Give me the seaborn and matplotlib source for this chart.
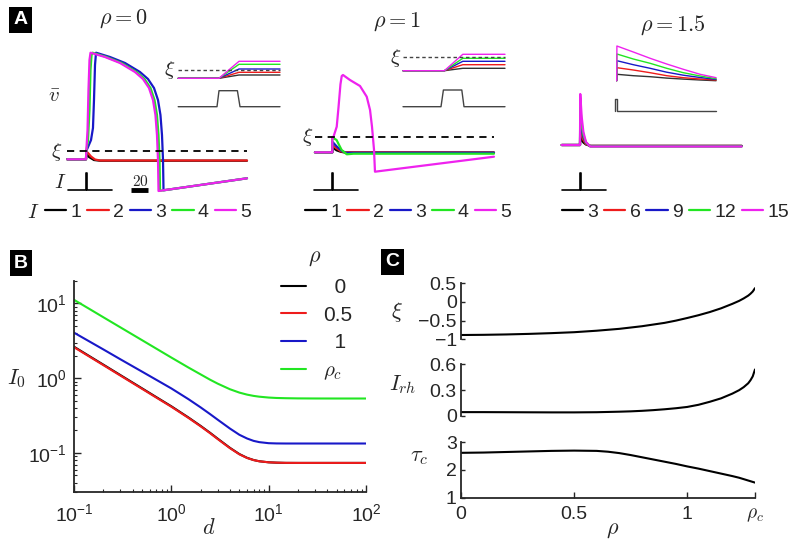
import numpy as np
import pandas as pd
import matplotlib
matplotlib.use('Agg')
import matplotlib.pyplot as plt
import seaborn as sns
from matplotlib.ticker import LogLocator, NullFormatter

sns.set_style('ticks')
plt.rcParams['font.family'] = ['Liberation Sans', 'DejaVu Sans']
plt.rcParams['mathtext.fontset'] = 'cm'
plt.rcParams['axes.unicode_minus'] = True

W, H = 796, 545
fig = plt.figure(figsize=(W / 100, H / 100), dpi=100)

COLORS = ['black', '#ee1c1c', '#1818c8', '#22e622', '#ee22ee']

# ---------------- Panel A data ----------------
# rho = 0 : currents and traces (time t, membrane v)
a1_currents = [1, 2, 3, 4, 5]
a1_t = [
    [-22, 0, 0.35, 3.5, 9.4, 16.5, 189.4],
    [-22, 0, 0.35, 2.4, 5.9, 10.6, 16.5, 189.4],
    [-22, 0, 0.35, 2.4, 5.9, 8.2, 9.4, 10.6, 11.8, 28.2, 45.9, 63.5, 72.9, 80, 84.7, 87.6, 89.4, 90.6, 91.2, 189.4],
    [-22, 0, 0.35, 2.4, 4.1, 5.3, 6.5, 7.7, 24.1, 41.8, 59.4, 68.8, 75.9, 80.6, 83.5, 85.3, 86.5, 87.1, 189.4],
    [-22, 0, 0.35, 1.8, 2.9, 4.1, 5.3, 22.3, 40, 57.6, 67, 74.1, 78.8, 81.7, 83.5, 84.7, 85.3, 189.4],
]
a1_v = [
    [0, 0, 0.58, 0.23, -0.07, -0.14, -0.14],
    [0, 0, 0.78, 0.63, 0.28, -0.02, -0.12, -0.12],
    [0, 0, 0.83, 1.23, 1.93, 3.13, 5.93, 9.43, 10.66, 10.23, 9.63, 8.73, 8.03, 7.13, 5.93, 4.43, 2.43, -0.07, -3.10, -1.9],
    [0, 0, 0.83, 1.93, 4.93, 8.93, 10.4, 10.66, 10.23, 9.63, 8.73, 8.03, 7.13, 5.93, 4.43, 2.43, -0.07, -3.15, -1.9],
    [0, 0, 0.83, 2.93, 6.93, 9.93, 10.66, 10.23, 9.63, 8.73, 8.03, 7.13, 5.93, 4.43, 2.43, -0.07, -3.17, -1.9],
]
a1_xi = 0.83
a1_inset_u = [-2.04, 0, 1, 3.05]
a1_inset_end = [0.33, 0.6, 0.93, 1.4, 1.7]
a1_pulse_u = [-2.04, -0.1, 0, 0.92, 1.05, 3.05]
a1_pulse_p = [0, 0, 1, 1, 0, 0]

# rho = 1
a2_currents = [1, 2, 3, 4, 5]
a2_t = [
    [-20.4, 0, 0.01, 5, 10, 15, 190.2],
    [-20.4, 0, 0.01, 5, 10, 15, 190.2],
    [-20.4, 0, 0.01, 5, 11, 16, 190.2],
    [-20.4, 0, 0.01, 5, 11, 17, 25, 190.2],
    [-20.4, 0, 0.01, 1.2, 5.2, 7.3, 9.6, 11.1, 12.6, 20.8, 32.6, 40.5, 44.4, 46.7, 49.1, 50.2, 190.2],
]
a2_v = [
    [0, 0, 0.5, 0.2, 0.05, -0.02, -0.02],
    [0, 0, 0.73, 0.4, 0.1, 0, -0.03],
    [0, 0, 1.06, 0.6, 0.15, -0.05, -0.05],
    [0, 0, 1.5, 1.23, 0.23, -0.2, -0.14, -0.14],
    [0, 0, 1.5, 1.5, 2.56, 4.5, 6.8, 7.63, 7.73, 7.23, 6.63, 5.56, 4.23, 2.56, 0.23, -1.94, -0.44],
]
a2_xi = 1.5
a2_inset_u = [-2.0, 0.07, 0.99, 3.1]
a2_inset_end = [0.24, 0.6, 0.94, 1.24, 1.64]
a2_inset_xi = 1.34
a2_pulse_u = [-2.0, -0.1, 0.02, 0.94, 1.05, 3.1]
a2_pulse_p = [0, 0, 1, 1, 0, 0]

# rho = 1.5
a3_currents = [3, 6, 9, 12, 15]
a3_t = [-21.5, 0, 0.3, 2, 4, 7, 12, 190.2]
a3_v = [
    [0, 0, 0.94, 0.5, 0.25, 0.05, -0.08, -0.08],
    [0, 0, 1.9, 1.0, 0.5, 0.1, -0.1, -0.1],
    [0, 0, 3.0, 1.6, 0.8, 0.2, -0.12, -0.12],
    [0, 0, 3.9, 2.1, 1.0, 0.25, -0.14, -0.14],
    [0, 0, 5.1, 2.8, 1.3, 0.3, -0.15, -0.15],
]
a3_inset_u = [0, 0.01, 0.83, 1.67, 2.5, 3.33, 4.17, 4.97]
a3_inset_w = [
    [0, 0.64, 0.5, 0.4, 0.26, 0.16, 0.07, 0.0],
    [0, 1.3, 1.07, 0.8, 0.5, 0.3, 0.17, 0.07],
    [0, 2.0, 1.6, 1.24, 0.85, 0.55, 0.32, 0.13],
    [0, 2.67, 2.17, 1.74, 1.24, 0.8, 0.47, 0.2],
    [0, 3.47, 2.87, 2.24, 1.67, 1.14, 0.64, 0.3],
]
a3_pulse_u = [-0.085, -0.085, 0, 0, 4.97]
a3_pulse_p = [0, 1, 1, 0, 0]

# stimulus (brief pulse at t=0) shown under each main trace
stim_t = [-21.2, 0, 0, 1, 1, 30.6]
stim_s = [0, 0, 1, 1, 0, 0]
scalebar_t = [53, 73]

# ---------------- Panel B data ----------------
b_d = [0.1, 0.15, 0.2, 0.3, 0.5, 0.7, 1, 1.5, 2, 2.5, 3, 4, 5, 6, 7, 8, 10, 12, 15, 20, 30, 50, 100]
b_rho_labels = ['  0', '0.5', '  1', r'$\rho_c$']
b_I0_rho0 = [2.64, 1.91, 1.52, 1.10, 0.732, 0.559, 0.421, 0.298, 0.230, 0.186, 0.155, 0.1170,
             0.0966, 0.0860, 0.0804, 0.0774, 0.0749, 0.0741, 0.0736, 0.0735, 0.0735, 0.0735, 0.0735]
b_I0_rho05 = [2.6, 1.882, 1.497, 1.083, 0.721, 0.551, 0.415, 0.294, 0.2269, 0.1836, 0.153, 0.1158,
              0.0958, 0.0856, 0.0802, 0.0773, 0.0749, 0.0741, 0.0736, 0.0735, 0.0735, 0.0735, 0.0735]
b_I0_rho1 = [4.07, 3.01, 2.43, 1.79, 1.225, 0.953, 0.73, 0.524, 0.407, 0.331, 0.278, 0.212,
             0.175, 0.156, 0.145, 0.1395, 0.135, 0.134, 0.1337, 0.1337, 0.1337, 0.1337, 0.1337]
b_I0_rhoc = [11.2, 8.19, 6.55, 4.79, 3.23, 2.49, 1.89, 1.389, 1.125, 0.955, 0.845, 0.712,
             0.642, 0.603, 0.58, 0.566, 0.551, 0.544, 0.540, 0.537, 0.5355, 0.535, 0.535]

# ---------------- Panel C data ----------------
c_rho = [0, 0.1, 0.2, 0.3, 0.4, 0.5, 0.6, 0.65, 0.7, 0.75, 0.8, 0.85, 0.9, 0.95, 1.0,
         1.05, 1.1, 1.15, 1.2, 1.23, 1.25, 1.27, 1.28, 1.29, 1.3]
c_xi = [-0.885, -0.88, -0.87, -0.855, -0.835, -0.81, -0.77, -0.745, -0.72, -0.685, -0.65, -0.605,
        -0.56, -0.50, -0.43, -0.355, -0.27, -0.17, -0.05, 0.03, 0.095, 0.17, 0.22, 0.28, 0.37]
c_irh = [0.045, 0.045, 0.044, 0.043, 0.042, 0.042, 0.044, 0.047, 0.05, 0.054, 0.06, 0.068,
         0.078, 0.09, 0.105, 0.13, 0.165, 0.205, 0.26, 0.30, 0.335, 0.38, 0.415, 0.46, 0.54]
c_tau = [2.62, 2.63, 2.65, 2.67, 2.69, 2.70, 2.69, 2.66, 2.61, 2.54, 2.46, 2.38,
         2.30, 2.22, 2.13, 2.05, 1.96, 1.87, 1.78, 1.72, 1.67, 1.62, 1.595, 1.57, 1.545]
rho_c = 1.3


# ---------------- helpers ----------------
def mapped_axes(xlim, ylim, x0px, sx, y0px, sy):
    left = x0px + xlim[0] * sx
    right = x0px + xlim[1] * sx
    top = y0px - ylim[1] * sy
    bottom = y0px - ylim[0] * sy
    ax = fig.add_axes([left / W, 1 - bottom / H, (right - left) / W, (bottom - top) / H])
    ax.set_xlim(xlim)
    ax.set_ylim(ylim)
    ax.axis('off')
    return ax


def long_df(ts, vs, labels):
    rows = []
    for t, v, lab in zip(ts, vs, labels):
        rows.append(pd.DataFrame({'t': t, 'v': v, 'I': lab}))
    return pd.concat(rows, ignore_index=True)


def ftext(x, y, s, **kw):
    kw.setdefault('ha', 'center')
    kw.setdefault('va', 'center')
    return fig.text(x / W, 1 - y / H, s, **kw)


def draw_column(t_list, v_list, currents, xi, t0x, v0y, legend_x,
                inset_ts, inset_ws, inset_xi, u0x, w0y,
                pulse_u, pulse_p, p0y, pulse_scale):
    tx = 0.85   # px per time unit
    vy = 10.0   # px per v unit
    ax = mapped_axes((-32, 200), (-4.5, 12), t0x, tx, v0y, vy)
    df = long_df(t_list, v_list, currents)
    sns.lineplot(data=df, x='t', y='v', hue='I', hue_order=currents,
                 palette=COLORS, estimator=None, sort=False, errorbar=None,
                 lw=1.6, ax=ax, legend=True)
    ax.axis('off')
    tmin = min(min(t) for t in t_list)
    tmax = max(max(t) for t in t_list)
    if xi is not None:
        ax.hlines(xi, tmin, tmax, colors='black', linestyles=(0, (4, 3)), lw=1.3)
    sns.move_legend(ax, 'center left', bbox_to_anchor=(legend_x / W, 1 - 212 / H),
                    bbox_transform=fig.transFigure, ncol=5, frameon=False, title=None,
                    handlelength=1.1, handletextpad=0.22, columnspacing=0.3,
                    borderpad=0, borderaxespad=0, fontsize=14)
    # stimulus
    axs = mapped_axes((-32, 200), (-0.4, 1.3), t0x, tx, 190, 17)
    sns.lineplot(x=stim_t, y=stim_s, color='black', lw=1.2, estimator=None,
                 sort=False, errorbar=None, ax=axs)
    axs.axis('off')
    # inset traces
    axi = mapped_axes((-2.3, 5.2), (-0.4, 3.8), u0x, 20, w0y, 10)
    dfi = long_df(inset_ts, inset_ws, currents)
    sns.lineplot(data=dfi, x='t', y='v', hue='I', hue_order=currents,
                 palette=['#333333'] + COLORS[1:], estimator=None, sort=False,
                 errorbar=None, lw=1.0, ax=axi, legend=False)
    axi.axis('off')
    if inset_xi is not None:
        axi.hlines(inset_xi, min(inset_ts[0]), max(inset_ts[0]), colors='#444444',
                   linestyles=(0, (2.5, 2)), lw=1.0)
    axp = mapped_axes((-2.3, 5.2), (-0.3, 1.4), u0x, 20, p0y, pulse_scale)
    sns.lineplot(x=pulse_u, y=pulse_p, color='#444444', lw=1.0, estimator=None,
                 sort=False, errorbar=None, ax=axp)
    axp.axis('off')
    return ax, axs


# ---------------- Panel A ----------------
ax1, axs1 = draw_column(a1_t, a1_v, a1_currents, a1_xi, 86, 159.3, 45,
                        [a1_inset_u] * 5, [[0, 0, e, e] for e in a1_inset_end], a1_xi,
                        219, 78.3, a1_pulse_u, a1_pulse_p, 106.7, 16)
axs1.plot(scalebar_t, [0, 0], color='black', lw=3.5, solid_capstyle='butt')
ftext(140, 181, '$20$', fontsize=11)

ax2, axs2 = draw_column(a2_t, a2_v, a2_currents, a2_xi, 332.3, 152.3, 305,
                        [a2_inset_u] * 5, [[0, 0, e, e] for e in a2_inset_end], a2_inset_xi,
                        443, 70.7, a2_pulse_u, a2_pulse_p, 106.7, 16.7)

ax3, axs3 = draw_column([a3_t] * 5, a3_v, a3_currents, None, 580, 145, 561.7,
                        [a3_inset_u] * 5, a3_inset_w, None,
                        616.7, 80.7, a3_pulse_u, a3_pulse_p, 111, 11.7)

ftext(123.3, 18.3, r'$\rho = 0$', fontsize=16)
ftext(396.7, 21.7, r'$\rho = 1$', fontsize=16)
ftext(673.3, 25, r'$\rho = 1.5$', fontsize=16)
ftext(57, 151.7, r'$\xi$', fontsize=15)
ftext(307.5, 137.3, r'$\xi$', fontsize=15)
ftext(170, 70, r'$\xi$', fontsize=15)
ftext(396, 58, r'$\xi$', fontsize=15)
ftext(54, 96, r'$\bar{v}$', fontsize=15)
ftext(60, 182, r'$I$', fontsize=15)
ftext(33.3, 212, r'$I$', fontsize=15)

# ---------------- Panel B ----------------
axb = fig.add_axes([74 / W, 1 - 492 / H, 292 / W, 211 / H])
df_b = pd.concat([
    pd.DataFrame({'d': b_d, 'I0': b_I0_rho0, 'rho': b_rho_labels[0]}),
    pd.DataFrame({'d': b_d, 'I0': b_I0_rho05, 'rho': b_rho_labels[1]}),
    pd.DataFrame({'d': b_d, 'I0': b_I0_rho1, 'rho': b_rho_labels[2]}),
    pd.DataFrame({'d': b_d, 'I0': b_I0_rhoc, 'rho': b_rho_labels[3]}),
], ignore_index=True)
sns.lineplot(data=df_b, x='d', y='I0', hue='rho', hue_order=b_rho_labels,
             palette=[COLORS[0], COLORS[1], COLORS[2], COLORS[3]], lw=1.5,
             estimator=None, errorbar=None, ax=axb)
axb.set_xscale('log')
axb.set_yscale('log')
axb.set_xlim(0.1, 100)
axb.set_ylim(0.03, 20)
axb.set_xlabel('')
axb.set_ylabel('')
axb.xaxis.set_major_locator(LogLocator(base=10, numticks=10))
axb.yaxis.set_major_locator(LogLocator(base=10, numticks=10))
axb.xaxis.set_minor_locator(LogLocator(base=10, subs=np.arange(2, 10), numticks=20))
axb.yaxis.set_minor_locator(LogLocator(base=10, subs=np.arange(2, 10), numticks=20))
axb.xaxis.set_minor_formatter(NullFormatter())
axb.yaxis.set_minor_formatter(NullFormatter())
axb.tick_params(which='major', direction='in', length=5, width=1.0, labelsize=14, pad=5)
axb.tick_params(axis='x', which='major', pad=8)
axb.tick_params(which='minor', direction='in', length=2.5, width=0.8)
sns.despine(ax=axb)
for sp in ['left', 'bottom']:
    axb.spines[sp].set_linewidth(1.3)
sns.move_legend(axb, 'upper left', bbox_to_anchor=(281 / W, 1 - 278 / H),
                bbox_transform=fig.transFigure, frameon=False, title=None,
                fontsize=15, handlelength=1.2, handletextpad=0.8,
                labelspacing=0.42, borderpad=0, borderaxespad=0)
ftext(315, 258, r'$\rho$', fontsize=16)
ftext(16, 379, r'$I_0$', fontsize=16)
ftext(209, 528, r'$d$', fontsize=16)

# ---------------- Panel C ----------------
c_boxes = [(283.3, 339.3), (364.3, 416.0), (442.3, 497.7)]
c_vals = [c_xi, c_irh, c_tau]
c_lims = [(-1, 0.5), (0, 0.6), (1, 3)]
c_ticks = [[-1, -0.5, 0, 0.5], [0, 0.3, 0.6], [1, 2, 3]]
c_ticklabels = [['\u22121', '\u22120.5', '0', '0.5'], ['0', '0.3', '0.6'], ['1', '2', '3']]
c_axes = []
for (top, bot), vals, lim, tk, tl in zip(c_boxes, c_vals, c_lims, c_ticks, c_ticklabels):
    axc = fig.add_axes([461 / W, 1 - bot / H, 294 / W, (bot - top) / H])
    sns.lineplot(x=c_rho, y=vals, color='black', lw=1.5, estimator=None,
                 errorbar=None, ax=axc)
    axc.set_xlim(0, rho_c)
    axc.set_ylim(*lim)
    axc.set_yticks(tk)
    axc.set_yticklabels(tl)
    axc.tick_params(axis='y', direction='in', length=3, width=1.0, labelsize=14, pad=3)
    axc.spines['left'].set_linewidth(1.3)
    axc.spines['bottom'].set_linewidth(1.3)
    c_axes.append(axc)
for axc in c_axes[:2]:
    sns.despine(ax=axc, bottom=True)
    axc.set_xticks([])
sns.despine(ax=c_axes[2])
c_axes[2].set_xticks([0, 0.5, 1, rho_c])
c_axes[2].set_xticklabels(['0', '0.5', '1', r'$\rho_c$'])
c_axes[2].tick_params(axis='x', direction='in', length=4, width=1.0, labelsize=14, pad=6)
ftext(397, 312, r'$\xi$', fontsize=16)
ftext(403, 385, r'$I_{rh}$', fontsize=16)
ftext(419, 457, r'$\tau_c$', fontsize=16)
ftext(613, 530, r'$\rho$', fontsize=16)

# panel letters
for x, y, s in [(20.5, 20, 'A'), (20.8, 263, 'B'), (392.5, 262, 'C')]:
    ftext(x, y, s, color='white', fontsize=14, fontweight='bold',
          bbox=dict(boxstyle='square,pad=0.22', fc='black', ec='none'))

fig.savefig('out.png', dpi=100)
